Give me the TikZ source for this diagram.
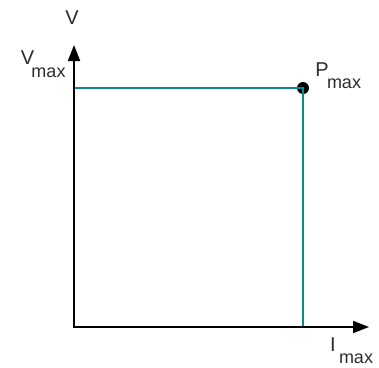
\documentclass[tikz,border=0pt]{standalone}
\usepackage{fontspec}
\setmainfont{Liberation Sans}
\usetikzlibrary{arrows.meta}
\definecolor{tealline}{RGB}{10,138,140}
\definecolor{txt}{RGB}{45,45,45}
\begin{document}
\begin{tikzpicture}[x=1pt,y=-1pt,
  axis/.style={line width=1.8pt,-{Triangle[length=16pt,width=12pt]}},
  guide/.style={line width=2pt,tealline},
  big/.style={inner sep=0pt,text=txt,font=\fontsize{20}{20}\selectfont},
  sub/.style={inner sep=0pt,text=txt,font=\fontsize{18}{18}\selectfont}]
\useasboundingbox[fill=white] (0,0) rectangle (379,367);
\coordinate (O) at (74,327);
\coordinate (ytip) at (74,45);
\coordinate (xtip) at (369,327);
\coordinate (Vm) at (74,88);
\coordinate (Im) at (303,327);
\node[circle,fill=black,inner sep=0pt,minimum size=12pt] (P) at (303,88) {};
\draw[guide] (Vm) -- (P.center) -- (Im);
\draw[axis] (O) -- (ytip);
\draw[axis] ([xshift=-0.9pt]O) -- (xtip);
\node[big] (V) at (72,17.5) {V};
\node[big] (VmV) at (27.5,57.5) {V};
\node[sub] (Vmmax) at (48.5,73) {max};
\node[big] (PP) at (322,70) {P};
\node[sub] (Pmax) at (344,84) {max};
\node[big] (II) at (333,344.5) {I};
\node[sub] (Imax) at (356,358.5) {max};
\end{tikzpicture}
\end{document}
